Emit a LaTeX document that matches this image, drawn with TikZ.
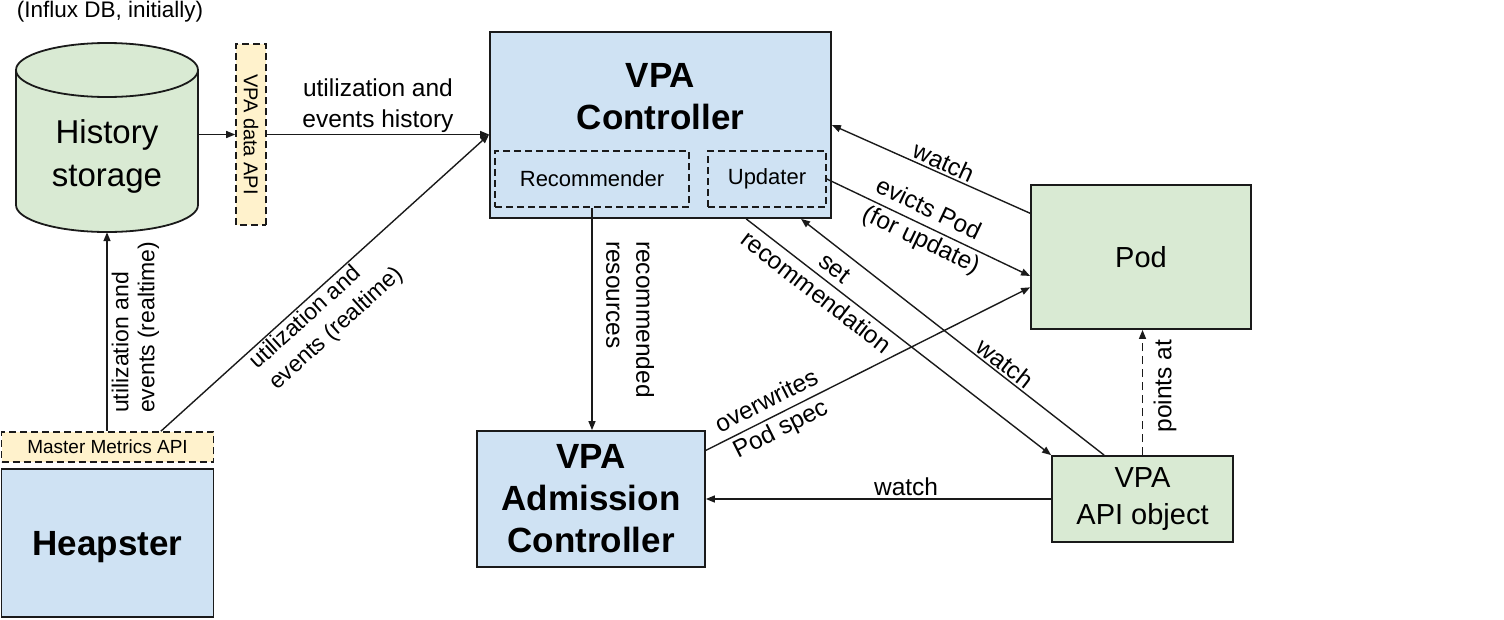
\documentclass[tikz,border=0pt]{standalone}
\usepackage{fontspec}
\setmainfont{Liberation Sans}
\usetikzlibrary{arrows.meta,calc}
\definecolor{bfill}{HTML}{CFE2F3}
\definecolor{gfill}{HTML}{D9EAD3}
\definecolor{yfill}{HTML}{FFF2CC}
\definecolor{ln}{HTML}{1A1A1A}
\begin{document}
\begin{tikzpicture}[x=1pt,y=-1pt,
  boxline/.style={draw=ln, line width=1.8pt},
  sbox/.style={boxline, inner sep=0pt},
  dbox/.style={draw=ln, line width=1.6pt, dash pattern=on 7pt off 4pt, inner sep=0pt},
  arr/.style={draw=ln, line width=1.4pt, -{Triangle[length=9pt,width=7pt]}},
  rarr/.style={draw=ln, line width=1.4pt, {Triangle[length=9pt,width=7pt]}-},
  lbl/.style={font=\fontsize{24.5}{31}\selectfont, inner sep=0pt},
  lblv/.style={font=\fontsize{23}{26}\selectfont, inner sep=0pt},
  titlef/.style={font=\bfseries\fontsize{35}{42}\selectfont, align=center},
  bodyf/.style={font=\fontsize{29}{37}\selectfont, align=center},
  smallf/.style={font=\fontsize{22}{26}\selectfont}
]
\useasboundingbox (0,0) rectangle (1504,619);

% History storage (cylinder)
\node[font=\fontsize{22.5}{27}\selectfont, inner sep=0pt] (influx) at (110,12) {(Influx DB, initially)};
\node[inner sep=0pt, minimum width=182pt, minimum height=189pt] (hist) at (107,137.5) {};
\filldraw[boxline, fill=gfill] (16,70) -- (16,205)
  arc[start angle=180, end angle=360, x radius=91pt, y radius=27pt] -- (198,70)
  arc[start angle=0, end angle=180, x radius=91pt, y radius=27pt] -- cycle;
\draw[boxline] (16,70) arc[start angle=180, end angle=360, x radius=91pt, y radius=27pt];
\node[font=\fontsize{33}{43}\selectfont, align=center, inner sep=0pt] (histtxt) at (107,156) {History\\storage};

% VPA data API
\node[dbox, fill=yfill, rotate=-90, minimum width=181pt, minimum height=30pt,
      font=\fontsize{20}{24}\selectfont] (dataapi) at (251,134.5) {VPA data API};

% VPA Controller
\node[sbox, fill=bfill, minimum width=341pt, minimum height=186pt] (ctrl) at (660.5,125) {};
\node[titlef, inner sep=0pt] (ctrlt) at (660.5,97) {VPA\\Controller};
\node[dbox, minimum width=194pt, minimum height=56pt, smallf] (rec) at (592,179) {Recommender};
\node[dbox, minimum width=118pt, minimum height=56pt, smallf] (upd) at (767,179) {Updater};

% Pod, VPA API object, Admission Controller
\node[sbox, fill=gfill, minimum width=220pt, minimum height=144pt, bodyf] (pod) at (1141,257) {Pod};
\node[sbox, fill=gfill, minimum width=181pt, minimum height=86pt, bodyf] (api) at (1142.5,499) {VPA\\API object};
\node[sbox, fill=bfill, minimum width=228pt, minimum height=136pt, titlef] (adm) at (591,499) {VPA\\Admission\\Controller};

% Heapster and Master Metrics API
\node[sbox, fill=bfill, minimum width=212pt, minimum height=148pt, titlef,
      text height=25pt, text depth=0pt] (heap) at (107.5,543) {Heapster};
\node[dbox, fill=yfill, minimum width=212pt, minimum height=30pt,
      font=\fontsize{19}{23}\selectfont] (mm) at (107.5,447) {Master Metrics API};

% Connectors
\draw[arr] (dataapi.south -| hist.east) -- (dataapi.south);
\coordinate (cin) at (ctrl.west |- dataapi.north);
\draw[arr] (dataapi.north) -- (cin)
  node[midway, above=1pt, lbl, align=center] (l2) {utilization and\\events history};

\draw[arr] (hist.south |- mm.north) -- (hist.south);
\node[lblv, rotate=90, anchor=west, align=left] (l3) at (135.5,413) {utilization and\\events (realtime)};

\coordinate (mmr) at ($(mm.north)!0.5!(mm.north east)$);
\draw[arr] (mmr) -- (cin)
  node[pos=0.25, sloped, anchor=north west, align=left, lblv, inner sep=2pt, font=\fontsize{23}{28.5}\selectfont] (l4) {utilization and\\events (realtime)};

\draw[arr] (rec.south) -- (rec.south |- adm.north);
\node[lbl, font=\fontsize{24.5}{30}\selectfont, rotate=-90, anchor=west, align=left] (l5) at (630,241) {recommended\\resources};

\coordinate (podw1) at ($(pod.north west)!0.2!(pod.south west)$);
\draw[rarr] (ctrl.east) -- (podw1)
  node[pos=0.54, sloped, above=2pt, lbl] (l6) {watch};

\coordinate (podw2) at ($(pod.north west)!0.63!(pod.south west)$);
\draw[arr] (upd.east) -- (podw2)
  node[pos=0.21, sloped, anchor=west, align=left, lbl] (l7) {evicts Pod\\(for update)};

\coordinate (ctrls1) at ($(ctrl.south west)!0.75!(ctrl.south east)$);
\draw[arr] (ctrls1) -- (api.north west)
  node[pos=0.26, sloped, align=center, lbl] (l8) {set\\recommendation};

\coordinate (ctrls2) at ($(ctrl.south west)!0.91!(ctrl.south east)$);
\coordinate (apin) at ($(api.north west)!0.29!(api.north east)$);
\draw[rarr] (ctrls2) -- (apin)
  node[pos=0.65, sloped, above=2pt, lbl] (l9) {watch};

\coordinate (admne) at ($(adm.north east)!0.147!(adm.south east)$);
\coordinate (podw3) at ($(pod.north west)!0.708!(pod.south west)$);
\draw[arr] (admne) -- (podw3)
  node[pos=0.21, sloped, align=center, lbl] (l10) {overwrites\\Pod spec};

\draw[arr] (api.west) -- (adm.east)
  node[pos=0.42, above=3pt, lbl] (l11) {watch};

\draw[arr, dash pattern=on 8pt off 5pt] (api.north) -- (api.north |- pod.south);
\node[lbl, rotate=90] (l12) at (1165,386) {points at};
\end{tikzpicture}
\end{document}
